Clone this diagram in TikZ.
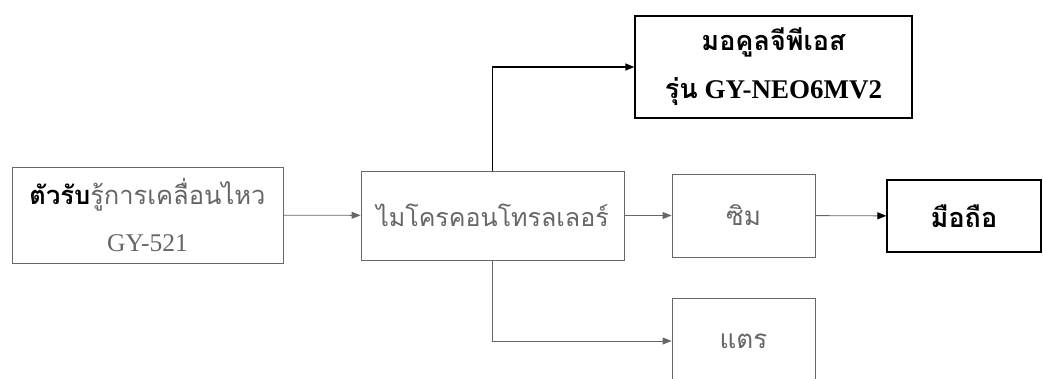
\documentclass[tikz,border=0pt]{standalone}
\usepackage{fontspec}
\setmainfont{Liberation Serif}
\newfontfamily\thai[Script=Thai]{Loma}
\usepackage{tikz}
\usetikzlibrary{arrows.meta}
\tikzset{
box/.style = {rectangle, draw=black, line width=1.3pt, text=black, align=center, minimum width = #1},
box/.default = 100pt, % box width
greybox/.style = {rectangle, draw=black!60, line width=0.9pt, text=black!60, align=center, minimum width = #1},
greybox/.default = 100pt,
arr/.style = {-{Triangle[length=9pt,width=7pt]}},
}

\begin{document}
\begin{tikzpicture}[x=1pt,y=-1pt]
  \clip (0,0) rectangle (1043,378);
  \fill[white] (0,0) rectangle (1043,378);

  % Boxes
    \node[greybox=271pt, minimum height=96pt, font=\fontsize{25.5}{47}\selectfont] (sensorBox) at (147.5,215)
      {{\thai\textcolor{black}{\bfseries ตัวรับ}รู้การเคลื่อนไหว}\\GY-521};
    \node[greybox=263pt, minimum height=89pt, font=\fontsize{25}{30}\selectfont\thai] (mcuBox) at (492.5,215.5)
      {ไมโครคอนโทรลเลอร์};
    \node[box=277pt, minimum height=102pt, font=\fontsize{27}{48}\selectfont\bfseries] (gpsBox) at (773.5,67)
      {{\thai มอคูลจีพีเอส}\\{\thai รุ่น} GY-NEO6MV2};
    \node[greybox=143pt, minimum height=83pt, font=\fontsize{26}{30}\selectfont\thai] (simBox) at (743.5,215.5)
      {ซิม};
    \node[greybox=143pt, minimum height=86pt, font=\fontsize{26}{30}\selectfont\thai] (hornBox) at (743.5,341)
      {แตร};
    \node[box=154pt, minimum height=72pt, font=\fontsize{27}{30}\selectfont\thai\bfseries] (phoneBox) at (964,216)
      {มือถือ};

  % Lines
    \draw[arr, black!60, line width=0.9pt] (sensorBox) -- (mcuBox);
    \draw[arr, black!60, line width=0.9pt] (mcuBox) -- (simBox);
    \draw[arr, black, line width=1.3pt] (mcuBox.north) |- (gpsBox.west);
    \draw[arr, black!60, line width=0.9pt] (mcuBox.south) |- (hornBox.west);
    \draw[-{Triangle[length=9pt,width=7pt,black]}, black!60, line width=0.9pt] (simBox) -- (phoneBox);
  \end{tikzpicture}
\end{document}
